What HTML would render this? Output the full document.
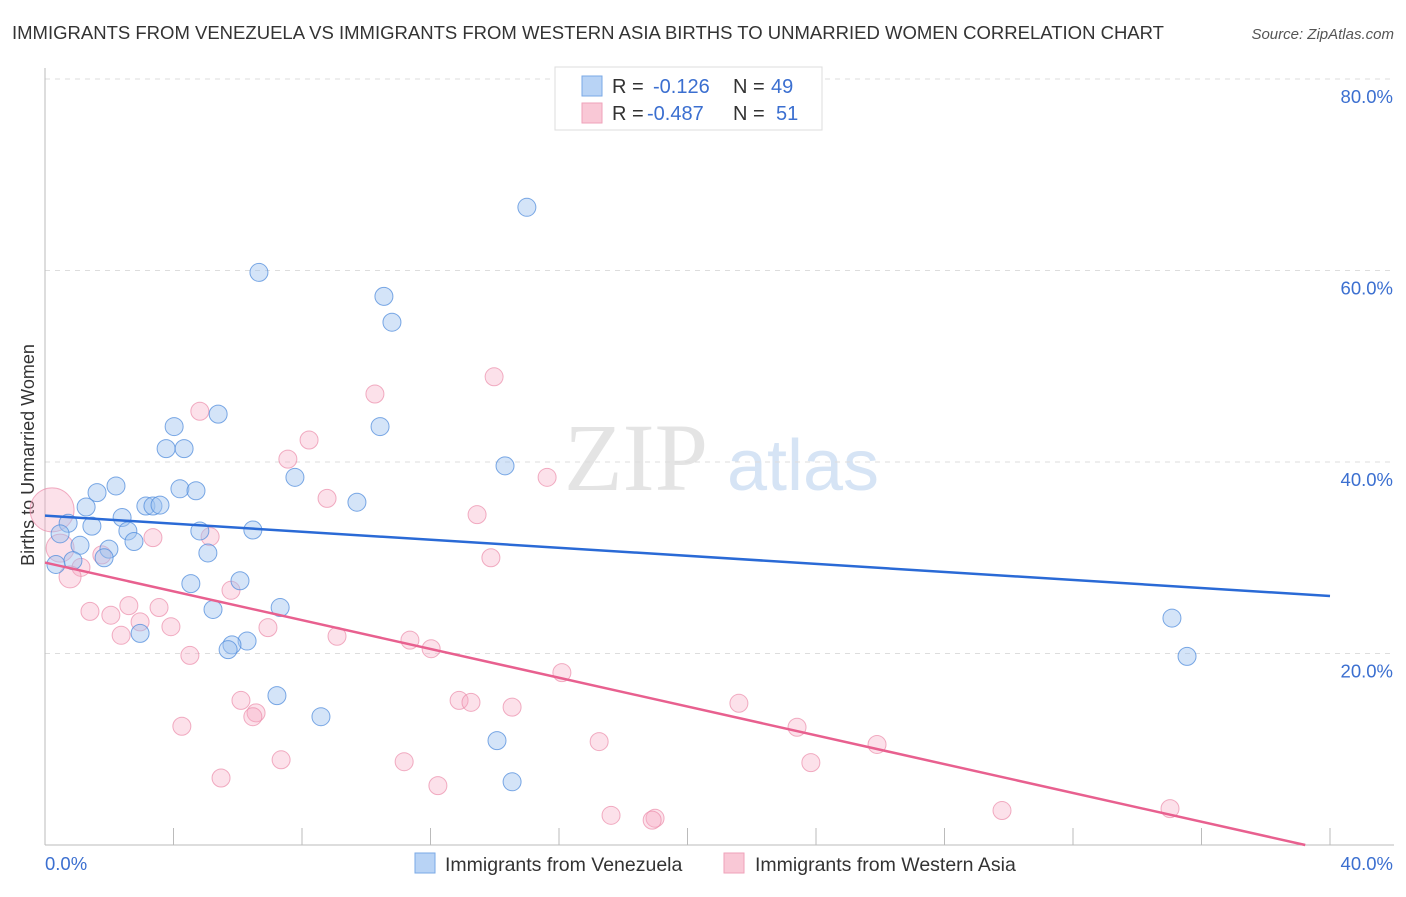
<!DOCTYPE html>
<html><head><meta charset="utf-8"><style>
body{margin:0;background:#fff;font-family:"Liberation Sans",sans-serif;}
</style></head><body>
<svg id="c" width="1406" height="892" viewBox="0 0 1406 892" xmlns="http://www.w3.org/2000/svg" font-family="Liberation Sans, sans-serif">
<text x="12" y="39" font-size="18" fill="#333" textLength="1152" lengthAdjust="spacingAndGlyphs">IMMIGRANTS FROM VENEZUELA VS IMMIGRANTS FROM WESTERN ASIA BIRTHS TO UNMARRIED WOMEN CORRELATION CHART</text>
<text x="1394" y="39" font-size="15" fill="#555" font-style="italic" text-anchor="end">Source: ZipAtlas.com</text>
<text transform="translate(34,455) rotate(-90)" font-size="18" fill="#333" text-anchor="middle">Births to Unmarried Women</text>
<g><text x="636" y="490" font-size="96" fill="#e4e4e4" text-anchor="middle" font-family="Liberation Serif, serif">ZIP</text><text x="803" y="490" font-size="72" fill="#d6e4f5" text-anchor="middle">atlas</text></g>
<g id="grid"></g><g id="axes"></g><g id="marks"></g>
<g>
<rect x="555" y="67" width="267" height="63" fill="#fff" stroke="#ddd"/>
<rect x="582" y="76" width="20" height="20" fill="#b8d3f5" stroke="#7aa8e6"/>
<rect x="582" y="103" width="20" height="20" fill="#f9c8d6" stroke="#efa2ba"/>
<text x="612" y="93" font-size="20" fill="#333">R = <tspan x="653" fill="#3b6fd0">-0.126</tspan><tspan x="733">N = </tspan><tspan x="771" fill="#3b6fd0">49</tspan></text>
<text x="612" y="120" font-size="20" fill="#333">R = <tspan x="647" fill="#3b6fd0">-0.487</tspan><tspan x="733">N = </tspan><tspan x="776" fill="#3b6fd0">51</tspan></text>
</g>
<g>
<rect x="415" y="853" width="20" height="20" fill="#b8d3f5" stroke="#7aa8e6"/>
<text x="445" y="871" font-size="19.5" fill="#333">Immigrants from Venezuela</text>
<rect x="724" y="853" width="20" height="20" fill="#f9c8d6" stroke="#efa2ba"/>
<text x="755" y="871" font-size="19.5" fill="#333">Immigrants from Western Asia</text>
</g>
</svg>
<script>
const yTicks=[20,40,60,80];
const xTickLabels=["0.0%","40.0%"];
const blueX=[15.0,6.66,10.55,10.8,5.39,4.02,10.43,3.77,4.33,14.32,7.78,2.21,1.62,4.2,4.7,9.71,1.28,3.14,3.36,3.58,2.4,0.72,1.46,6.47,4.82,2.58,0.47,2.77,1.09,1.99,5.07,1.84,0.87,0.34,4.54,6.07,7.32,5.23,2.96,6.29,5.82,5.7,35.08,35.55,7.22,8.59,14.07,14.54];
const blueY=[66.6,59.8,57.3,54.6,45.0,43.7,43.7,41.4,41.4,39.6,38.4,37.5,36.8,37.2,37.0,35.8,35.3,35.4,35.4,35.5,34.2,33.6,33.3,32.9,32.8,32.8,32.5,31.7,31.3,30.9,30.5,30.0,29.7,29.3,27.3,27.6,24.8,24.6,22.1,21.3,20.9,20.4,23.7,19.7,15.6,13.4,10.9,6.6];
const pinkX=[13.98,10.27,4.82,8.22,7.56,15.63,8.78,13.45,0.22,3.36,5.14,0.47,13.88,1.77,1.12,0.78,5.79,2.61,3.55,1.4,2.05,2.96,3.92,6.94,2.37,9.09,11.36,12.02,4.51,16.09,6.1,12.89,13.26,21.6,6.57,6.47,14.54,4.26,23.41,17.25,25.9,7.35,11.18,23.84,5.48,12.23,29.79,35.02,17.62,18.99,18.9];
const pinkY=[48.9,47.1,45.3,42.3,40.3,38.4,36.2,34.5,35.0,32.1,32.2,31.0,30.0,30.3,29.0,28.0,26.6,25.0,24.8,24.4,24.0,23.3,22.8,22.7,21.9,21.8,21.4,20.5,19.8,18.0,15.1,15.1,14.9,14.8,13.8,13.4,14.4,12.4,12.3,10.8,10.5,8.9,8.7,8.6,7.0,6.2,3.6,3.8,3.1,2.8,2.6];
const pinkR=[9,9,9,9,9,9,9,9,22,9,9,14,9,9,9,11,9,9,9,9,9,9,9,9,9,9,9,9,9,9,9,9,9,9,9,9,9,9,9,9,9,9,9,9,9,9,9,9,9,9,9];
const blueTrend=[34.4,26.0];
const pinkTrend=[29.5,-0.752];
const NS="http://www.w3.org/2000/svg";
const X=v=>45+v/40*1285, Y=v=>845-v/20*191.5;
function mk(t,a,p){const e=document.createElementNS(NS,t);for(const k in a)e.setAttribute(k,a[k]);p.appendChild(e);return e;}
const grid=document.getElementById('grid'),axes=document.getElementById('axes'),marks=document.getElementById('marks');
yTicks.forEach(t=>{
 const l=mk('line',{x1:45,x2:1394,y1:Y(t),y2:Y(t),stroke:'#ddd','stroke-dasharray':'5,5'},grid);
 
 
 const tx=mk('text',{x:1393,y:Y(t)+24,'font-size':18.5,fill:'#3b6fd0','text-anchor':'end'},axes);tx.textContent=t.toFixed(1)+'%';
 
 
});
mk('line',{x1:45,x2:45,y1:68,y2:845,stroke:'#bbb'},axes);
mk('line',{x1:45,x2:1394,y1:845,y2:845,stroke:'#bbb'},axes);
for(let i=1;i<=10;i++){const t=mk('line',{x1:X(i*4),x2:X(i*4),y1:828,y2:845,stroke:'#bbb'},axes);
 
 }
const x0=mk('text',{x:45,y:870,'font-size':18.5,fill:'#3b6fd0'},axes);x0.textContent=xTickLabels[0];


const x1=mk('text',{x:1393,y:870,'font-size':18.5,fill:'#3b6fd0','text-anchor':'end'},axes);x1.textContent=xTickLabels[1];


pinkX.forEach((v,i)=>{const c=mk('circle',{cx:X(v),cy:Y(pinkY[i]),r:pinkR[i],fill:'rgba(245,170,195,0.35)',stroke:'rgba(235,140,170,0.7)','stroke-width':1},marks);
 
 });
blueX.forEach((v,i)=>{const c=mk('circle',{cx:X(v),cy:Y(blueY[i]),r:9,fill:'rgba(160,196,240,0.45)',stroke:'rgba(80,140,220,0.75)','stroke-width':1},marks);
 
 });
const bl=mk('line',{x1:X(0),y1:Y(blueTrend[0]),x2:X(40),y2:Y(blueTrend[1]),stroke:'#2a6ad6','stroke-width':2.5},marks);


const xe=-pinkTrend[0]/pinkTrend[1];
const pl=mk('line',{x1:X(0),y1:Y(pinkTrend[0]),x2:X(xe),y2:Y(0),stroke:'#e8608f','stroke-width':2.5},marks);


</script>
</body></html>
